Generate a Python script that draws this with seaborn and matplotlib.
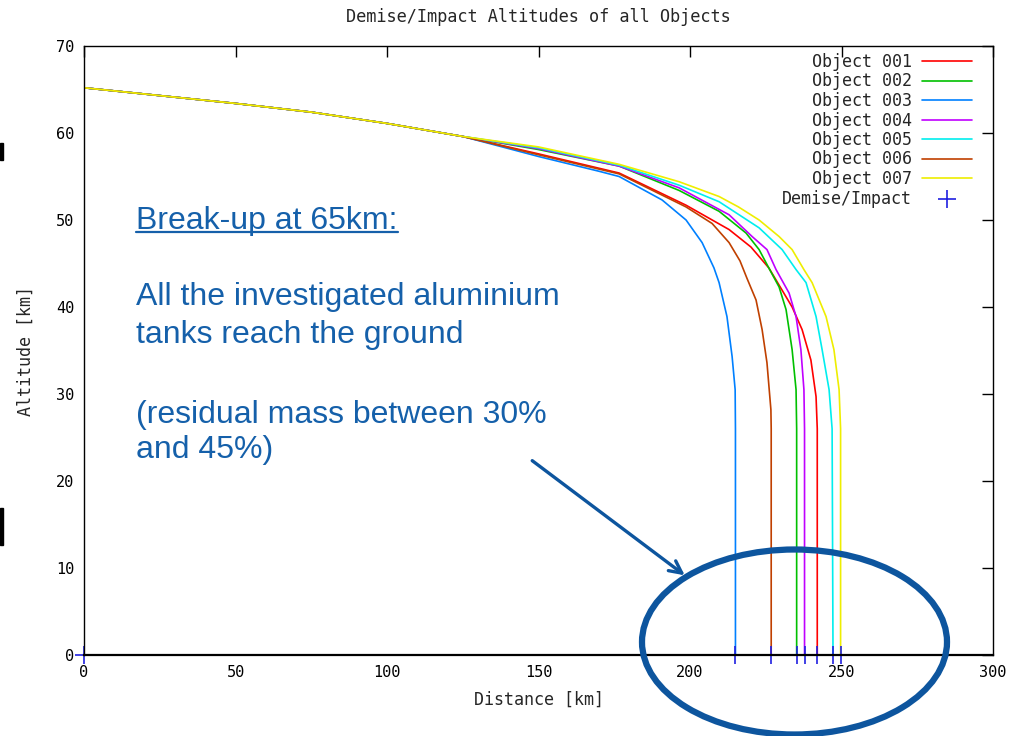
import numpy as np
import pandas as pd
import matplotlib
matplotlib.use('Agg')
import matplotlib.pyplot as plt
import seaborn as sns
from matplotlib.patches import Ellipse, Rectangle
from matplotlib.lines import Line2D

# 数据：各碎片的轨迹（距离 km，高度 km）
common_dist = [0, 25, 50, 75, 100, 125]
common_alt = [65.2, 64.3, 63.4, 62.4, 61.1, 59.6]

obj001_dist = [150, 176.6, 198.7, 212.9, 220.1, 226.0, 228.4, 233.7, 237.0, 239.9, 241.6, 242.0, 242.0]
obj001_alt = [57.6, 55.4, 51.7, 48.9, 46.9, 44.5, 43.1, 40.0, 37.4, 33.9, 29.7, 26.0, 0.0]

obj002_dist = [150, 176.6, 196.4, 209.6, 218.5, 222.8, 226.3, 229.4, 231.7, 233.7, 235.0, 235.2, 235.2]
obj002_alt = [58.1, 56.2, 53.4, 51.0, 48.5, 46.6, 44.3, 42.3, 39.7, 35.1, 30.5, 26.0, 0.0]

obj003_dist = [150, 170, 176.6, 190.8, 198.7, 204.0, 207.9, 209.6, 212.2, 213.9, 214.9, 215.0, 215.0]
obj003_alt = [57.3, 55.6, 55.0, 52.3, 50.0, 47.4, 44.5, 42.8, 38.9, 34.3, 30.5, 26.0, 0.0]

obj004_dist = [150, 176.6, 196.4, 212.9, 220.5, 225.4, 228.4, 232.7, 235.0, 236.6, 237.6, 237.8, 237.8]
obj004_alt = [58.2, 56.2, 53.7, 50.6, 48.1, 46.6, 44.3, 41.6, 38.9, 35.1, 30.5, 26.0, 0.0]

obj005_dist = [150, 176.6, 196.4, 209.6, 222.8, 230.4, 235.0, 238.3, 241.6, 243.6, 245.9, 246.9, 247.2]
obj005_alt = [58.3, 56.3, 54.0, 52.1, 49.1, 46.6, 44.3, 42.8, 38.9, 35.1, 30.5, 26.0, 0.0]

obj006_dist = [150, 176.6, 198.7, 207.3, 212.9, 216.5, 218.8, 221.8, 223.8, 225.4, 226.7, 226.8, 226.8]
obj006_alt = [57.5, 55.3, 51.5, 49.6, 47.4, 45.3, 43.3, 40.8, 37.4, 33.6, 28.2, 26.0, 0.0]

obj007_dist = [150, 176.6, 196.4, 209.6, 216.0, 222.8, 229.4, 233.7, 237.6, 240.3, 244.9, 247.5, 249.2, 249.7, 249.7]
obj007_alt = [58.4, 56.4, 54.4, 52.7, 51.5, 50.0, 48.1, 46.6, 44.3, 42.8, 38.9, 35.1, 30.5, 26.0, 0.0]

object_names = ['Object 001', 'Object 002', 'Object 003', 'Object 004',
                'Object 005', 'Object 006', 'Object 007']
object_colors = ['#ff0000', '#00c000', '#0080ff', '#c000ff', '#00eeee', '#c04000', '#eeee00']

demise_dist = [0, 215.0, 226.8, 235.2, 237.8, 242.0, 247.2, 249.7]
demise_alt = [0, 0, 0, 0, 0, 0, 0, 0]

tracks = [(obj001_dist, obj001_alt), (obj002_dist, obj002_alt), (obj003_dist, obj003_alt),
          (obj004_dist, obj004_alt), (obj005_dist, obj005_alt), (obj006_dist, obj006_alt),
          (obj007_dist, obj007_alt)]

rows = []
for name, (d, a) in zip(object_names, tracks):
    for x, y in zip(common_dist + d, common_alt + a):
        rows.append({'distance': x, 'altitude': y, 'object': name})
df = pd.DataFrame(rows)

sns.set_style('white')
plt.rcParams['font.family'] = ['DejaVu Sans Mono']

W, H = 1015, 736
fig = plt.figure(figsize=(W / 100, H / 100), dpi=100)
ax = fig.add_axes([84 / W, 1 - 655 / H, (993 - 84) / W, (655 - 46) / H])


def px(x, y):
    """像素坐标 -> 图形坐标"""
    return (x / W, 1 - y / H)


sns.lineplot(data=df, x='distance', y='altitude', hue='object', palette=object_colors,
             sort=False, estimator=None, linewidth=1.2, ax=ax)
# 坐标轴线盖住 "+" 的横线
ax.scatter(demise_dist, demise_alt, marker='+', s=150, color='#2020e0', linewidths=1.2,
           zorder=2.2, clip_on=False, label='Demise/Impact')

ax.set_xlim(0, 300)
ax.set_ylim(0, 70)
ax.set_xticks(range(0, 301, 50))
ax.set_yticks(range(0, 71, 10))
ax.tick_params(direction='in', length=8, width=1, top=True, right=True,
               labelsize=11, colors='black', pad=7)
for s in ax.spines.values():
    s.set_color('black')
    s.set_linewidth(1)
    s.set_zorder(3)
ax.spines['bottom'].set_linewidth(1.6)

ax.set_xlabel('Distance [km]', fontsize=12, labelpad=8)
ax.set_ylabel('Altitude [km]', fontsize=12, labelpad=15)
fig.text(0.5 * (84 + 993) / W, 1 - 17 / H, 'Demise/Impact Altitudes of all Objects',
         ha='center', va='center', fontsize=12.2)

handles, labels = ax.get_legend_handles_labels()
leg = ax.legend(handles, labels, loc='upper right', bbox_to_anchor=((972 - 84) / 909, 1 - 7 / 609),
                frameon=False, markerfirst=False, fontsize=12, handlelength=3.0,
                handletextpad=0.6, labelspacing=0.09, borderpad=0, borderaxespad=0)

# 注释文字
blue = '#1560aa'
txt_kw = dict(color=blue, fontsize=23, family=['Liberation Sans', 'DejaVu Sans'], va='baseline')
fig.text(*px(136, 229), 'Break-up at 65km:', **txt_kw)
fig.add_artist(Line2D([136 / W, 398 / W], [1 - 232 / H, 1 - 232 / H], color=blue, lw=1.6))
fig.text(*px(136, 305), 'All the investigated aluminium', **txt_kw)
fig.text(*px(136, 343), 'tanks reach the ground', **txt_kw)
fig.text(*px(136, 423), '(residual mass between 30%', **txt_kw)
fig.text(*px(136, 458), 'and 45%)', **txt_kw)

ax.annotate('', xy=px(687, 577), xytext=px(530, 459), xycoords='figure fraction',
            textcoords='figure fraction',
            arrowprops=dict(arrowstyle='->', color='#0d559e', lw=2.4, mutation_scale=22))

fig.add_artist(Ellipse(px(794.5, 642), 305 / W, 185 / H, fill=False,
                       edgecolor='#0d559e', lw=4.5, transform=fig.transFigure))

# 左侧幻灯片残边
fig.add_artist(Rectangle(px(0, 160), 3 / W, 17 / H, color='black', transform=fig.transFigure))
fig.add_artist(Rectangle(px(0, 545), 3 / W, 37 / H, color='black', transform=fig.transFigure))

fig.savefig('out.png', dpi=100)
